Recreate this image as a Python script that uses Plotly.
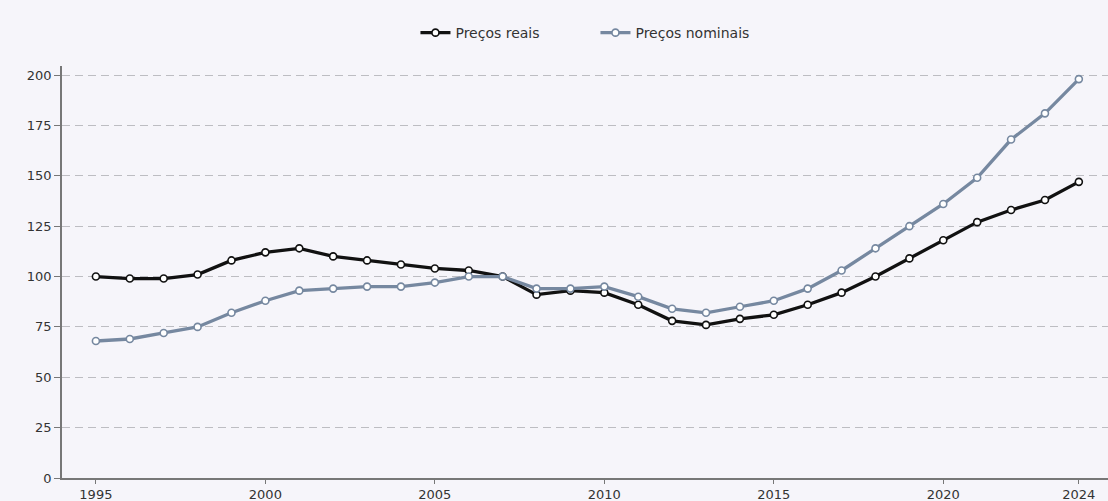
import plotly.graph_objects as go

years = list(range(1995, 2025))
precos_reais = [100, 99, 99, 101, 108, 112, 114, 110, 108, 106, 104, 103, 100, 91, 93, 92,
                86, 78, 76, 79, 81, 86, 92, 100, 109, 118, 127, 133, 138, 147]
precos_nominais = [68, 69, 72, 75, 82, 88, 93, 94, 95, 95, 97, 100, 100, 94, 94, 95,
                   90, 84, 82, 85, 88, 94, 103, 114, 125, 136, 149, 168, 181, 198]
x_ticks = [1995, 2000, 2005, 2010, 2015, 2020, 2024]
y_ticks = [0, 25, 50, 75, 100, 125, 150, 175, 200]

bg = "#f6f5fa"
fig = go.Figure()
fig.add_trace(go.Scatter(
    x=years, y=precos_reais, name="Preços reais", mode="lines+markers",
    line=dict(color="#111111", width=3.3),
    marker=dict(symbol="circle", size=7, color="white", line=dict(color="#111111", width=1.6)),
))
fig.add_trace(go.Scatter(
    x=years, y=precos_nominais, name="Preços nominais", mode="lines+markers",
    line=dict(color="#7688a0", width=3.3),
    marker=dict(symbol="circle", size=7, color="white", line=dict(color="#7688a0", width=1.6)),
))

fig.update_layout(
    width=1108, height=501,
    margin=dict(l=62, r=0, t=66, b=23),
    paper_bgcolor=bg, plot_bgcolor=bg,
    font=dict(family="DejaVu Sans", size=13, color="#333333"),
    showlegend=True,
    legend=dict(orientation="h", x=0.51, xanchor="center", y=1.08, yanchor="middle",
                entrywidth=135, entrywidthmode="pixels",
                font=dict(size=14, color="#333333"), bgcolor="rgba(0,0,0,0)"),
    xaxis=dict(range=[1994, 2024.86], tickvals=x_ticks, showgrid=False, zeroline=False,
               showline=True, linecolor="#777777", linewidth=1.5,
               ticks="outside", ticklen=4, tickcolor="#777777"),
    yaxis=dict(range=[0, 204.5], tickvals=y_ticks, showgrid=True, gridcolor="#bdbdc2",
               griddash="8px,5px", gridwidth=1.2, zeroline=False,
               showline=True, linecolor="#777777", linewidth=1.5,
               ticks="outside", ticklen=6, tickcolor="#777777"),
)
fig.write_html(
    "out.html",
    config={"displayModeBar": False},
    post_script="document.body.style.margin='0';document.body.style.background='%s';" % bg,
)
